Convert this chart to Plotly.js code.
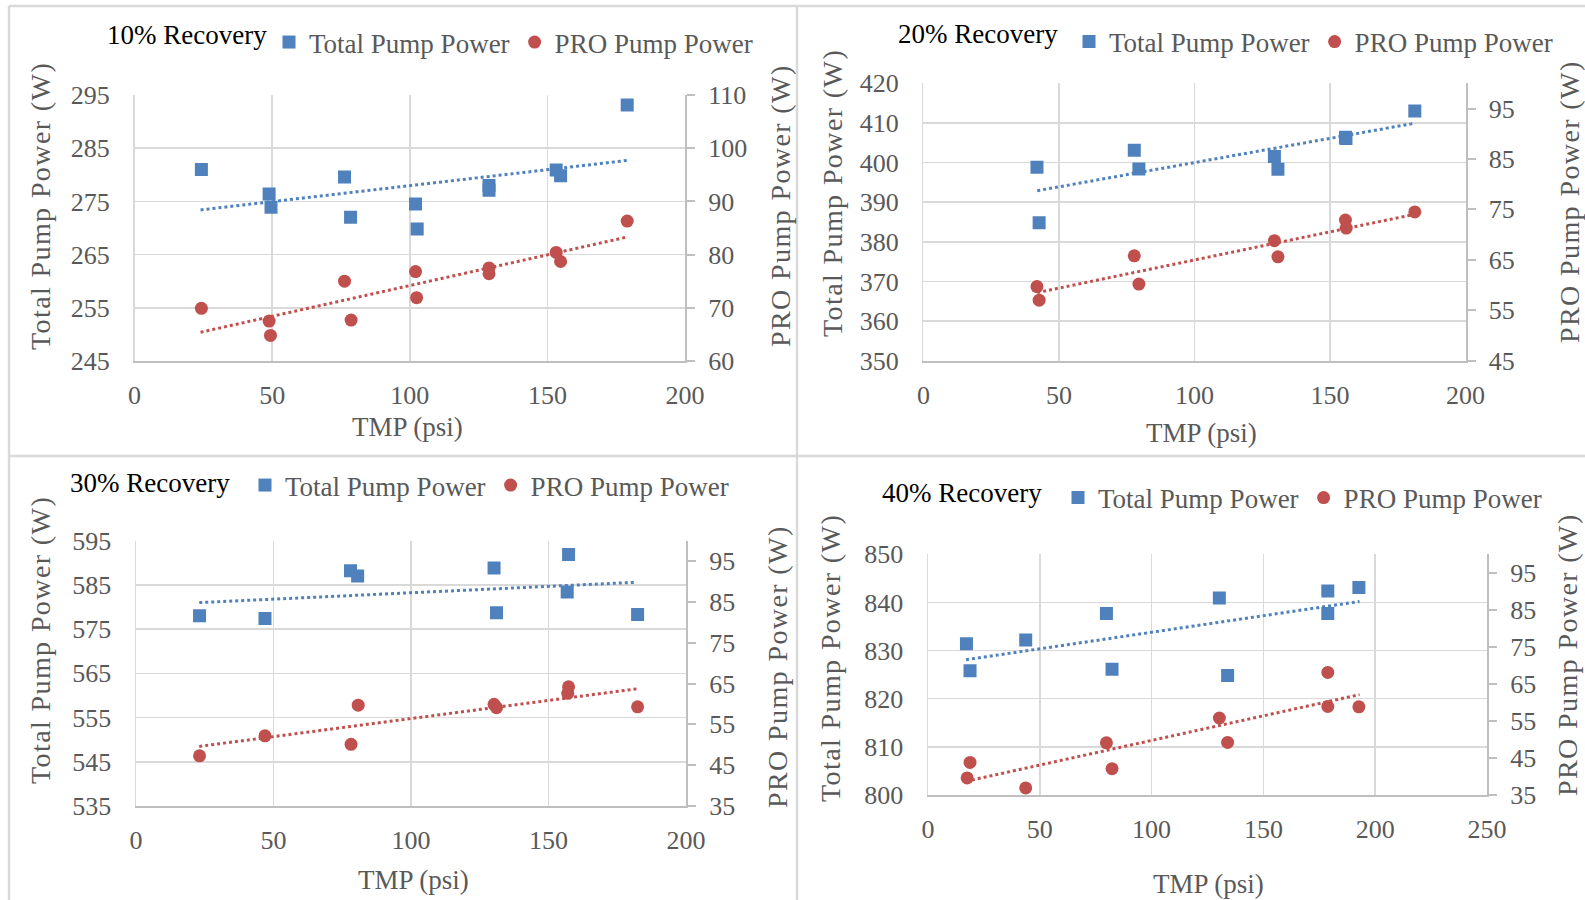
<!DOCTYPE html>
<html><head><meta charset="utf-8">
<script src="https://cdn.plot.ly/plotly-3.0.1.min.js"></script>
<style>html,body{margin:0;padding:0;background:#fff;overflow:hidden}#chart{width:1585px;height:900px}</style>
</head><body><div id="chart"></div>
<script>
// ---------- data ----------
const panelTitles = ['10% Recovery', '20% Recovery', '30% Recovery', '40% Recovery'];
const seriesNames = ['Total Pump Power', 'PRO Pump Power'];
const xTitle = 'TMP (psi)';
const leftTitle = 'Total Pump Power (W)';
const rightTitle = 'PRO Pump Power (W)';

// 10% recovery
const tmp10Total = [24.3, 48.9, 49.6, 76.3, 78.5, 102.1, 102.7, 128.8, 128.8, 153.2, 154.8, 179.0];
const total10    = [281.0, 276.4, 273.9, 279.6, 272.0, 274.5, 269.8, 278.0, 277.1, 280.9, 279.8, 293.1];
const tmp10Pro   = [24.3, 48.9, 49.4, 76.3, 78.7, 102.1, 102.5, 128.8, 128.8, 153.2, 154.8, 179.0];
const pro10      = [69.9, 67.5, 64.8, 75.0, 67.7, 76.8, 71.9, 77.5, 76.4, 80.4, 78.7, 86.3];
const trend10X     = [24, 179];
const trend10Total = [273.4, 282.7];
const trend10Pro   = [65.4, 83.3];

// 20% recovery
const tmp20Total = [41.9, 42.7, 77.8, 79.5, 129.5, 130.8, 155.7, 155.9, 181.3];
const total20    = [398.8, 384.8, 403.1, 398.4, 401.5, 398.3, 406.4, 406.1, 413.0];
const tmp20Pro   = [41.9, 42.7, 77.8, 79.5, 129.5, 130.8, 155.7, 156.0, 181.3];
const pro20      = [59.7, 57.0, 65.8, 60.2, 68.8, 65.6, 72.9, 71.3, 74.5];
const trend20X     = [42, 181];
const trend20Total = [392.9, 409.9];
const trend20Pro   = [58.5, 74.0];

// 30% recovery
const tmp30Total = [23.1, 46.9, 78.0, 80.6, 130.2, 131.1, 157.3, 156.8, 182.4];
const total30    = [578.0, 577.4, 588.2, 587.0, 588.8, 578.7, 591.9, 583.4, 578.3];
const tmp30Pro   = [23.1, 46.9, 78.2, 80.8, 130.2, 131.1, 157.3, 157.0, 182.4];
const pro30      = [47.3, 52.2, 50.1, 59.7, 59.9, 59.1, 64.2, 62.6, 59.3];
const trend30X     = [23, 182];
const trend30Total = [581.0, 585.6];
const trend30Pro   = [49.6, 63.7];

// 40% recovery
const tmp40Total = [17.2, 18.8, 43.7, 79.8, 82.3, 130.3, 134.0, 178.8, 178.8, 192.7];
const total40    = [831.4, 825.8, 832.2, 837.7, 826.1, 840.9, 824.8, 842.4, 837.7, 843.1];
const tmp40Pro   = [17.5, 18.8, 43.7, 79.8, 82.3, 130.3, 134.0, 178.8, 178.8, 192.7];
const pro40      = [39.6, 43.8, 36.9, 49.1, 42.1, 55.8, 49.2, 68.1, 58.9, 58.8];
const trend40X     = [17, 193];
const trend40Total = [828.1, 840.2];
const trend40Pro   = [38.7, 62.1];

// axis ranges / ticks
const xRanges     = [[0, 200], [0, 200], [0, 200], [0, 250]];
const leftRanges  = [[245, 295], [350, 420], [535, 595], [800, 850]];
const rightRanges = [[60, 110], [45, 100], [35, 100], [35, 100]];

// ---------- styling / geometry ----------
const W = 1585, H = 900;
const FONT = '"Liberation Serif", "Times New Roman", Times, serif';
const GRAY = '#595959';
const BLUE = '#4f81bd', RED = '#c0504d';
const GRID = '#d9d9d9', LINE = '#bfbfbf';
const px = v => v / W;
const py = v => 1 - v / H;

const geo = [
  {L: 134.5, R: 685, T: 95, B: 361, title: [187, 35], leg: [289, 42.5], lt: [40, 206], rt: [780, 206], xt: [407, 427]},
  {L: 923.4, R: 1465.5, T: 83.3, B: 360.7, title: [978, 34], leg: [1089, 42], lt: [832, 193], rt: [1569, 202], xt: [1201, 433]},
  {L: 136, R: 686, T: 540.7, B: 806, title: [150, 483], leg: [265, 485.5], lt: [40, 640], rt: [777, 667], xt: [413, 880]},
  {L: 928, R: 1487, T: 554.3, B: 795, title: [962, 493], leg: [1078, 498], lt: [830, 658], rt: [1567, 655], xt: [1208, 884]}
];

const panelData = [
  [tmp10Total, total10, tmp10Pro, pro10, trend10X, trend10Total, trend10Pro],
  [tmp20Total, total20, tmp20Pro, pro20, trend20X, trend20Total, trend20Pro],
  [tmp30Total, total30, tmp30Pro, pro30, trend30X, trend30Total, trend30Pro],
  [tmp40Total, total40, tmp40Pro, pro40, trend40X, trend40Total, trend40Pro]
];

const traces = [];
const layout = {
  width: W, height: H,
  margin: {l: 0, r: 0, t: 0, b: 0},
  paper_bgcolor: '#fff', plot_bgcolor: 'rgba(0,0,0,0)',
  font: {family: FONT, color: GRAY, size: 26},
  showlegend: true,
  annotations: [],
  shapes: []
};

const spaced = t => '<span style="letter-spacing:1.4px">' + t + '</span>';

panelData.forEach((d, i) => {
  const g = geo[i];
  const n = i + 1;
  const xa = n === 1 ? 'x' : 'x' + n;
  const yl = 'y' + (2 * i + 1 === 1 ? '' : (2 * i + 1));
  const yr = 'y' + (2 * i + 2);
  const legName = n === 1 ? 'legend' : 'legend' + n;
  const [tx, ty, rx, ry, trX, trT, trP] = d;

  traces.push({type: 'scatter', mode: 'markers', name: seriesNames[0], x: tx, y: ty, xaxis: xa, yaxis: yl,
    marker: {symbol: 'square', size: 13, color: BLUE}, legend: legName, hoverinfo: 'x+y'});
  traces.push({type: 'scatter', mode: 'lines', x: trX, y: trT, xaxis: xa, yaxis: yl, showlegend: false,
    line: {color: BLUE, width: 3, dash: '3px,3px'}, hoverinfo: 'skip'});
  traces.push({type: 'scatter', mode: 'markers', name: seriesNames[1], x: rx, y: ry, xaxis: xa, yaxis: yr,
    marker: {symbol: 'circle', size: 13, color: RED}, legend: legName, hoverinfo: 'x+y'});
  traces.push({type: 'scatter', mode: 'lines', x: trX, y: trP, xaxis: xa, yaxis: yr, showlegend: false,
    line: {color: RED, width: 3, dash: '3px,3px'}, hoverinfo: 'skip'});

  const xKey = n === 1 ? 'xaxis' : 'xaxis' + n;
  const ylKey = yl === 'y' ? 'yaxis' : 'yaxis' + (2 * i + 1);
  const yrKey = 'yaxis' + (2 * i + 2);
  const yDomain = [py(g.B), py(g.T)];

  layout[xKey] = {
    domain: [px(g.L), px(g.R)], anchor: yl, range: xRanges[i], dtick: 50, tick0: 0,
    showgrid: true, gridcolor: GRID, gridwidth: 1.5, zeroline: false,
    showline: true, linecolor: LINE, linewidth: 2, ticks: '', ticklabelstandoff: 10,
    tickfont: {family: FONT, size: 26, color: GRAY}, fixedrange: true
  };
  layout[ylKey] = {
    domain: yDomain, anchor: xa, range: leftRanges[i], dtick: 10, tick0: leftRanges[i][0],
    showgrid: true, gridcolor: GRID, gridwidth: 1.5, zeroline: false,
    showline: true, linecolor: GRID, linewidth: 1.5, ticks: '', ticklabelstandoff: 18,
    tickfont: {family: FONT, size: 26, color: GRAY}, fixedrange: true
  };
  layout[yrKey] = {
    domain: yDomain, anchor: xa, overlaying: yl, side: 'right', range: rightRanges[i], dtick: 10, tick0: rightRanges[i][0],
    showgrid: false, zeroline: false, showline: true, linecolor: LINE, linewidth: 2,
    ticks: 'outside', ticklen: 8, tickwidth: 2, tickcolor: LINE, ticklabelstandoff: 8,
    tickfont: {family: FONT, size: 26, color: GRAY}, fixedrange: true
  };

  layout[legName] = {
    x: px(g.leg[0] - 20), xanchor: 'left', y: py(g.leg[1]), yanchor: 'middle',
    orientation: 'h', bgcolor: 'rgba(0,0,0,0)', borderwidth: 0,
    font: {family: FONT, size: 27, color: GRAY}, itemclick: false, itemdoubleclick: false
  };

  const ann = (text, p, opts) => Object.assign({
    text: text, xref: 'paper', yref: 'paper', x: px(p[0]), y: py(p[1]),
    xanchor: 'center', yanchor: 'middle', showarrow: false,
    font: {family: FONT, size: 27, color: GRAY}
  }, opts || {});
  layout.annotations.push(ann(panelTitles[i], g.title, {font: {family: FONT, size: 27, color: '#000'}}));
  layout.annotations.push(ann(spaced(leftTitle), g.lt, {textangle: -90, font: {family: FONT, size: 28, color: GRAY}}));
  layout.annotations.push(ann(spaced(rightTitle), g.rt, {textangle: -90, font: {family: FONT, size: 28, color: GRAY}}));
  layout.annotations.push(ann(xTitle, g.xt));
});

// chart-area borders
const bline = (x0, y0, x1, y1) => ({type: 'line', xref: 'paper', yref: 'paper',
  x0: px(x0), y0: py(y0), x1: px(x1), y1: py(y1), line: {color: GRID, width: 2.5}, layer: 'below'});
layout.shapes.push(bline(9, 6, 9, 900));
layout.shapes.push(bline(797, 6, 797, 900));
layout.shapes.push(bline(9, 6, 1585, 6));
layout.shapes.push(bline(9, 456, 1585, 456));

Plotly.newPlot('chart', traces, layout, {staticPlot: true, displayModeBar: false});
</script>
</body></html>
